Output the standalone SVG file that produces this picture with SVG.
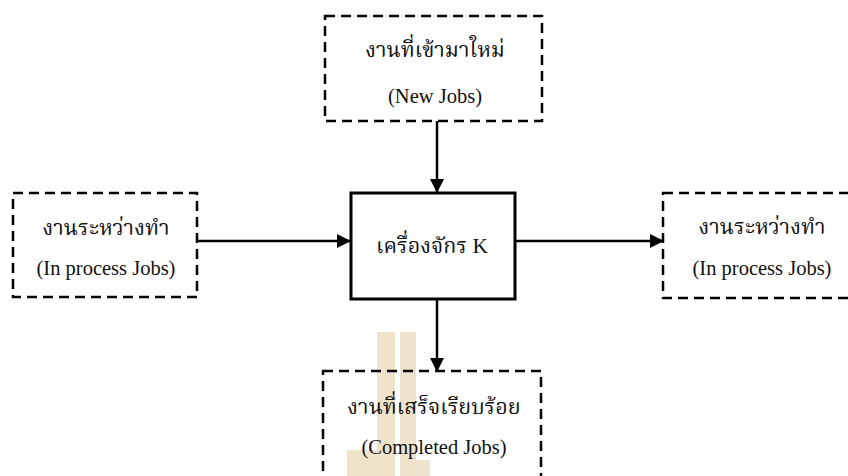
<svg xmlns="http://www.w3.org/2000/svg" width="848" height="476" viewBox="0 0 848 476">
<style>
.dash{fill:none;stroke:#000;stroke-width:2.5;stroke-dasharray:10 6}
.solid{fill:#fff;stroke:#000;stroke-width:3}
.t{font-family:"Liberation Serif","Noto Serif Thai","Noto Sans Thai",serif;font-size:20.5px;fill:#111;text-anchor:middle}
.th{font-size:21.5px}
.c{fill:none;stroke:#000;stroke-width:2.5}
</style>
<defs>
<marker id="ah" markerWidth="14" markerHeight="14" refX="13" refY="7" orient="auto" markerUnits="userSpaceOnUse">
<path d="M0,0 L14,7 L0,14 Z" fill="#000"/>
</marker>
</defs>
<rect width="848" height="476" fill="#fff"/>
<g id="watermark" fill="#efe3cc">
<rect x="377" y="332" width="18" height="144"/>
<rect x="400" y="332" width="16" height="144"/>
<rect x="347" y="450" width="30" height="26"/>
<rect x="416" y="460" width="14" height="16"/>
</g>
<g id="connectors">
<line class="c" x1="437" y1="121" x2="437" y2="192" marker-end="url(#ah)"/>
<line class="c" x1="197" y1="241" x2="350" y2="241" marker-end="url(#ah)"/>
<line class="c" x1="516" y1="241" x2="663" y2="241" marker-end="url(#ah)"/>
<line class="c" x1="437" y1="300" x2="437" y2="371" marker-end="url(#ah)"/>
</g>
<g id="new-jobs">
<rect class="dash" x="325" y="16" width="217" height="105"/>
<text class="t th" x="435" y="57">งานที่เข้ามาใหม่</text>
<text class="t" x="435" y="103">(New Jobs)</text>
</g>
<g id="in-process-left">
<rect class="dash" x="13" y="193" width="184" height="104"/>
<text class="t th" x="106" y="235">งานระหว่างทำ</text>
<text class="t" x="106" y="275">(In process Jobs)</text>
</g>
<g id="machine">
<rect class="solid" x="351" y="193" width="164" height="106"/>
<text class="t th" x="432" y="253">เครื่องจักร K</text>
</g>
<g id="in-process-right">
<rect class="dash" x="663" y="193" width="200" height="105"/>
<text class="t th" x="762" y="234">งานระหว่างทำ</text>
<text class="t" x="762" y="275">(In process Jobs)</text>
</g>
<g id="completed-jobs">
<rect class="dash" x="323" y="371" width="218" height="120"/>
<text class="t th" x="434" y="414">งานที่เสร็จเรียบร้อย</text>
<text class="t" x="434" y="454">(Completed Jobs)</text>
</g>
</svg>
